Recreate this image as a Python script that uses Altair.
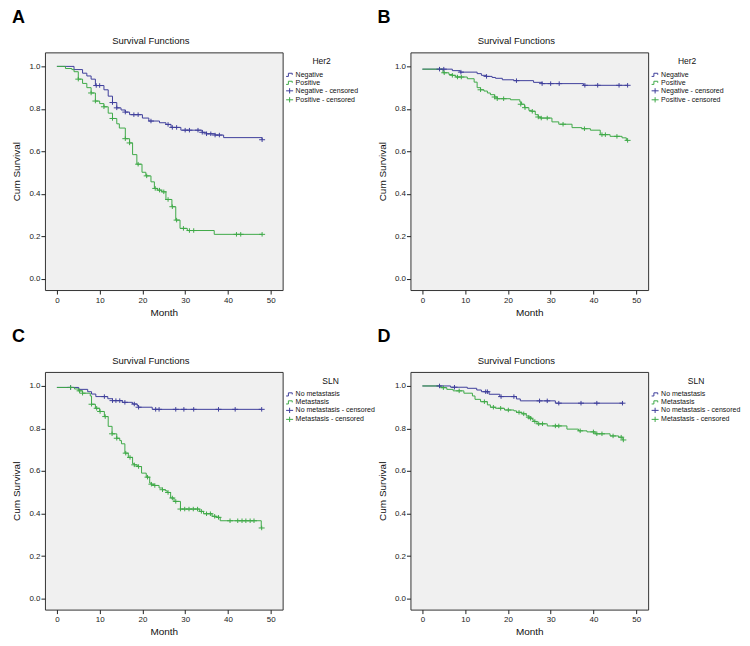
import altair as alt
import pandas as pd

FONT = "Liberation Sans"
BLUE = "#3f3f9c"
GREEN = "#3faa48"

# ---------------- Panel A (Her2) ----------------
a_neg_t = [0, 4, 6, 7, 8, 9, 11, 12, 13, 14, 15, 16, 17, 20, 21.5, 24, 25.5, 26.7, 29, 34, 35, 37, 39, 48]
a_neg_s = [1.0, 0.985, 0.968, 0.955, 0.94, 0.91, 0.89, 0.86, 0.83, 0.805, 0.795, 0.785, 0.773, 0.757, 0.743,
           0.735, 0.727, 0.713, 0.70, 0.69, 0.683, 0.677, 0.665, 0.655]
a_neg_ct = [9.2, 10, 13, 14, 16, 18, 19, 22, 26, 27, 28, 30, 31, 33, 34, 35, 36, 37, 38, 48]
a_neg_cv = [0.91, 0.91, 0.83, 0.805, 0.785, 0.773, 0.773, 0.743, 0.727, 0.713, 0.713, 0.70, 0.70, 0.70, 0.69,
            0.683, 0.683, 0.677, 0.677, 0.655]
a_pos_t = [0, 2, 3.5, 4, 5, 6, 7, 8, 9, 10, 11, 12, 13, 14, 14.6, 16, 17, 17.7, 18.7, 19.9, 20.8, 22, 22.8, 23.5,
           24.5, 25.5, 26.9, 27.8, 28.8, 30.5, 36.8, 48]
a_pos_s = [1.0, 0.99, 0.985, 0.975, 0.94, 0.92, 0.90, 0.875, 0.837, 0.825, 0.81, 0.78, 0.755, 0.73, 0.71, 0.66,
           0.64, 0.585, 0.54, 0.502, 0.485, 0.457, 0.426, 0.418, 0.41, 0.374, 0.34, 0.277, 0.238, 0.228, 0.21, 0.21]
a_pos_ct = [5, 8, 9, 11, 13, 16, 17, 19, 21, 23, 24, 25, 26, 27, 28, 29.6, 31, 32, 42, 43, 48]
a_pos_cv = [0.94, 0.875, 0.837, 0.81, 0.755, 0.66, 0.64, 0.54, 0.485, 0.426, 0.418, 0.41, 0.374, 0.34, 0.277,
            0.238, 0.228, 0.228, 0.21, 0.21, 0.21]

# ---------------- Panel B (Her2) ----------------
b_neg_t = [0, 7, 8.8, 12.8, 13.8, 14.9, 16.3, 17.1, 18.7, 21.4, 26, 28, 37.7, 48]
b_neg_s = [0.987, 0.98, 0.973, 0.966, 0.958, 0.953, 0.948, 0.944, 0.937, 0.933, 0.925, 0.919, 0.911, 0.911]
b_neg_ct = [4, 5, 9, 15, 22, 28, 30, 32, 38, 41, 46, 48]
b_neg_cv = [0.987, 0.987, 0.973, 0.953, 0.933, 0.919, 0.919, 0.919, 0.911, 0.911, 0.911, 0.911]
b_pos_t = [0, 4.8, 6.2, 7, 7.8, 10.5, 12.1, 12.8, 13.6, 14.4, 15.2, 15.9, 16.9, 17.5, 20.6, 22.8, 23.2, 23.9,
           24.9, 25.5, 26.4, 27.1, 27.6, 30.3, 31.9, 35, 37.3, 39.3, 41.6, 43.9, 46.7, 47.7, 48]
b_pos_s = [0.987, 0.97, 0.962, 0.958, 0.95, 0.942, 0.926, 0.90, 0.89, 0.884, 0.875, 0.867, 0.856, 0.848, 0.843,
           0.833, 0.822, 0.806, 0.793, 0.789, 0.773, 0.762, 0.757, 0.739, 0.728, 0.712, 0.707, 0.70, 0.679, 0.671,
           0.664, 0.652, 0.652]
b_pos_ct = [5.1, 7, 8.2, 9.1, 13.6, 16.9, 17.5, 19, 23, 24, 25.7, 27.1, 27.8, 29.2, 32.9, 37.9, 42, 42.8, 45.5, 48]
b_pos_cv = [0.97, 0.958, 0.95, 0.95, 0.89, 0.856, 0.848, 0.848, 0.822, 0.806, 0.789, 0.762, 0.757, 0.757, 0.728,
            0.707, 0.679, 0.679, 0.671, 0.652]

# ---------------- Panel C (SLN) ----------------
c_neg_t = [0, 5.1, 7.2, 8.1, 9.1, 11.9, 13, 15.3, 17.7, 18.8, 19.1, 22.3, 48]
c_neg_s = [0.993, 0.984, 0.973, 0.962, 0.95, 0.94, 0.931, 0.923, 0.915, 0.906, 0.90, 0.89, 0.89]
c_neg_ct = [3.2, 11.1, 13, 13.8, 14.7, 15.9, 18.1, 19.1, 23.1, 23.9, 27.8, 29.7, 32, 37.8, 41.7, 47.9]
c_neg_cv = [0.993, 0.95, 0.931, 0.931, 0.931, 0.923, 0.915, 0.90, 0.89, 0.89, 0.89, 0.89, 0.89, 0.89, 0.89, 0.89]
c_pos_t = [0, 4.1, 5, 6, 7.8, 8.1, 9, 10, 11.1, 12, 12.9, 14, 14.7, 15.1, 15.9, 16.7, 17.7, 18.1, 18.8, 19.8,
           20.9, 21.7, 22.1, 22.7, 23.9, 24.7, 25.4, 25.8, 26.6, 27.4, 28.9, 33.4, 34.3, 36.3, 37.3, 38.2, 47.8, 48]
c_pos_s = [0.993, 0.986, 0.977, 0.966, 0.953, 0.914, 0.895, 0.88, 0.856, 0.81, 0.775, 0.754, 0.743, 0.728,
           0.684, 0.664, 0.634, 0.629, 0.621, 0.59, 0.571, 0.543, 0.538, 0.532, 0.52, 0.512, 0.507, 0.499, 0.473,
           0.457, 0.421, 0.41, 0.399, 0.387, 0.382, 0.366, 0.332, 0.332]
c_pos_ct = [3.2, 5.3, 6, 8.1, 9.3, 10.1, 11.3, 12.9, 14, 16.1, 17.1, 18.1, 19.1, 21.2, 22.1, 22.9, 24.7, 26, 27,
            27.8, 28.9, 29.9, 30.9, 31.9, 32.9, 33.8, 35, 35.9, 36.9, 37.8, 40.5, 42.3, 43.3, 44.2, 45.2, 46.1, 47.9]
c_pos_cv = [0.993, 0.977, 0.966, 0.914, 0.895, 0.88, 0.856, 0.775, 0.754, 0.684, 0.664, 0.629, 0.621, 0.571,
            0.538, 0.532, 0.512, 0.499, 0.473, 0.457, 0.421, 0.421, 0.421, 0.421, 0.421, 0.41, 0.399, 0.399, 0.387,
            0.382, 0.366, 0.366, 0.366, 0.366, 0.366, 0.366, 0.332]

# ---------------- Panel D (SLN) ----------------
d_neg_t = [0, 6.6, 10.5, 12.7, 13.8, 15.6, 18.1, 22, 22.9, 31.1, 47]
d_neg_s = [1.0, 0.994, 0.989, 0.981, 0.973, 0.961, 0.95, 0.939, 0.93, 0.919, 0.919]
d_neg_ct = [4, 7.5, 14.8, 15.2, 18.4, 21.4, 27.4, 29.2, 31.9, 37.1, 40.8, 46.8]
d_neg_cv = [1.0, 0.994, 0.973, 0.973, 0.95, 0.95, 0.93, 0.93, 0.919, 0.919, 0.919, 0.919]
d_pos_t = [0, 4.3, 5.7, 7.2, 9.7, 11.7, 12.3, 13.6, 15.2, 15.9, 17.1, 19.2, 21.4, 22, 23.3, 24.3, 24.9, 25.3,
           25.7, 26.1, 26.8, 29.2, 33.8, 36.5, 38.5, 40.4, 43.9, 45.9, 46.9, 47]
d_pos_s = [1.0, 0.992, 0.984, 0.977, 0.966, 0.953, 0.937, 0.926, 0.911, 0.90, 0.895, 0.887, 0.883, 0.876, 0.869,
           0.859, 0.853, 0.848, 0.84, 0.833, 0.822, 0.812, 0.797, 0.789, 0.784, 0.775, 0.765, 0.759, 0.746, 0.746]
d_pos_ct = [4.9, 8.6, 14.5, 16.6, 18.3, 20.1, 22.6, 23.7, 24.9, 25.3, 26.3, 27.2, 28.1, 31.1, 31.9, 36.9, 40,
            40.8, 42, 44.6, 46.5, 47]
d_pos_cv = [0.992, 0.977, 0.926, 0.90, 0.895, 0.887, 0.876, 0.869, 0.853, 0.848, 0.833, 0.822, 0.822, 0.812,
            0.812, 0.789, 0.784, 0.775, 0.775, 0.765, 0.759, 0.746]

her2_labels = ["Negative", "Positive", "Negative - censored", "Positive - censored"]
sln_labels = ["No metastasis", "Metastasis", "No metastasis - censored", "Metastasis - censored"]
panel_title = "Survival Functions"

x_ticks = [0, 10, 20, 30, 40, 50]
y_ticks = [0.0, 0.2, 0.4, 0.6, 0.8, 1.0]

STEP_PATH = "M-1,0.45H-0.35V-0.45H0.75V0"
PLUS_PATH = "M-1,0H1M0,-0.75V0.75"


def panel(letter, group_title, labels, neg, pos):
    (nt, ns, nct, ncv) = neg
    (pt, ps, pct, pcv) = pos
    lines = pd.concat([
        pd.DataFrame({"month": nt, "surv": ns, "label": labels[0]}),
        pd.DataFrame({"month": pt, "surv": ps, "label": labels[1]}),
    ])
    cens = pd.concat([
        pd.DataFrame({"month": nct, "surv": ncv, "label": labels[2]}),
        pd.DataFrame({"month": pct, "surv": pcv, "label": labels[3]}),
    ])
    x = alt.X("month:Q", scale=alt.Scale(domain=[-2.8, 52.8], nice=False, zero=False),
              axis=alt.Axis(values=x_ticks, title="Month", grid=False, domain=False, tickSize=4,
                            tickColor="#222", labelFontSize=8, labelFont=FONT, labelColor="#222",
                            titleFont=FONT, titleFontSize=10, titleFontWeight="normal", titleColor="#111",
                            labelPadding=2, titlePadding=3))
    y = alt.Y("surv:Q", scale=alt.Scale(domain=[-0.052, 1.066], nice=False, zero=False),
              axis=alt.Axis(values=y_ticks, format=".1f", title="Cum Survival", grid=False, domain=False,
                            tickSize=4, tickColor="#222", labelFontSize=8, labelFont=FONT, labelColor="#222",
                            titleFont=FONT, titleFontSize=10, titleFontWeight="normal", titleColor="#111",
                            labelPadding=1, titlePadding=7))
    line_layer = alt.Chart(lines).mark_line(interpolate="step-after", strokeWidth=1).encode(
        x=x, y=y,
        stroke=alt.Stroke("label:N", scale=alt.Scale(domain=labels[:2], range=[BLUE, GREEN]), legend=None),
        detail="label:N",
    )
    cens_layer = alt.Chart(cens).mark_point(filled=False, strokeWidth=1, size=36, opacity=1).encode(
        x="month:Q", y="surv:Q",
        color=alt.Color("label:N", scale=alt.Scale(domain=labels, range=[BLUE, GREEN, BLUE, GREEN]),
                        legend=alt.Legend(title=group_title, orient="none", legendX=241, legendY=5,
                                          titleFont=FONT, titleFontSize=8.5, titleFontWeight="normal",
                                          titleColor="#111", titleAnchor="middle", titleAlign="center",
                                          labelFont=FONT, labelFontSize=7, labelColor="#111",
                                          symbolSize=49, symbolStrokeWidth=1, rowPadding=-1,
                                          labelOffset=2, padding=0, titlePadding=5)),
        shape=alt.Shape("label:N", scale=alt.Scale(domain=labels,
                                                   range=[STEP_PATH, STEP_PATH, PLUS_PATH, PLUS_PATH])),
    )
    text_df = pd.DataFrame({"t": [letter]})
    letter_layer = alt.Chart(text_df).mark_text(
        font=FONT, fontSize=18, fontWeight="bold", align="left", baseline="top",
        color="#000").encode(x=alt.value(-33), y=alt.value(-43.5), text="t:N")
    title_layer = alt.Chart(pd.DataFrame({"t": [panel_title]})).mark_text(
        font=FONT, fontSize=9.5, align="center", baseline="alphabetic",
        color="#111").encode(x=alt.value(106), y=alt.value(-8), text="t:N")
    return alt.layer(line_layer, cens_layer, letter_layer, title_layer).properties(width=238, height=238)


A = panel("A", "Her2", her2_labels, (a_neg_t, a_neg_s, a_neg_ct, a_neg_cv), (a_pos_t, a_pos_s, a_pos_ct, a_pos_cv))
B = panel("B", "Her2", her2_labels, (b_neg_t, b_neg_s, b_neg_ct, b_neg_cv), (b_pos_t, b_pos_s, b_pos_ct, b_pos_cv))
C = panel("C", "SLN", sln_labels, (c_neg_t, c_neg_s, c_neg_ct, c_neg_cv), (c_pos_t, c_pos_s, c_pos_ct, c_pos_cv))
D = panel("D", "SLN", sln_labels, (d_neg_t, d_neg_s, d_neg_ct, d_neg_cv), (d_pos_t, d_pos_s, d_pos_ct, d_pos_cv))

chart = alt.concat(A, B, C, D, columns=2, spacing={"row": 10, "column": 0}).resolve_scale(
    color="independent", shape="independent", stroke="independent", x="independent", y="independent"
).resolve_legend(color="independent", shape="independent", stroke="independent").properties(
    padding={"left": 3, "top": 0, "right": 0, "bottom": 0}, background="white"
).configure_view(
    fill="#f0f0f0", stroke="#333333", strokeWidth=1
)

chart.save("out.html", embed_options={"renderer": "svg", "actions": False})
